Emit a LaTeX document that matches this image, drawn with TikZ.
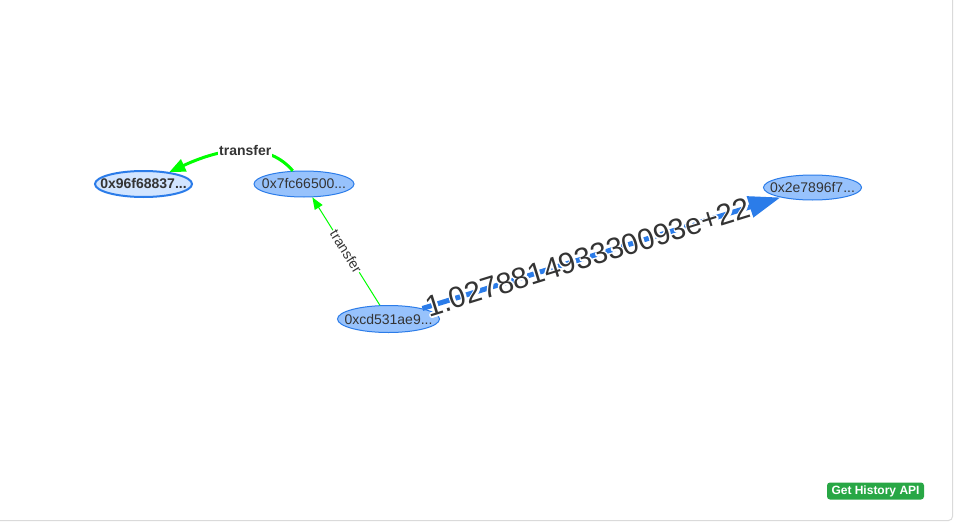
\documentclass[tikz,border=0pt]{standalone}
\usepackage{fontspec}
\setmainfont{Liberation Sans}
\usetikzlibrary{shapes.geometric,arrows.meta}
\definecolor{nodefill}{HTML}{97C2FC}
\definecolor{nodeborder}{HTML}{2B7CE9}
\definecolor{selfill}{HTML}{D2E5FF}
\definecolor{txt}{HTML}{343434}
\definecolor{limegreen}{HTML}{00FF00}
\definecolor{btn}{HTML}{28A745}
\definecolor{framegray}{HTML}{DADADA}
\newcommand\nb[1]{\makebox[0pt]{#1}}
\newcommand\halo[1]{\special{pdf:literal direct 1 Tr 3.6 w 1 j}#1\special{pdf:literal direct 0 Tr}}
\begin{document}
\begin{tikzpicture}[x=1pt,y=-1pt,
  acct/.style={ellipse, draw=nodeborder, fill=nodefill, line width=1pt, inner sep=0pt,
    minimum width=100pt, minimum height=26pt, text=txt, font=\fontsize{14}{16}\selectfont},
  selacct/.style={fill=selfill, line width=2pt, font=\fontsize{14}{16}\selectfont\bfseries},
  elabel/.style={text=txt, font=\fontsize{14}{16}\selectfont, fill=white, inner sep=1pt},
  greenthick/.style={draw=limegreen, line width=3pt, -{Triangle[length=16pt,width=13pt]}},
  greenthin/.style={draw=limegreen, line width=1pt, -{Triangle[length=12pt,width=9pt]}},
  blueedge/.style={draw=nodeborder, line width=5pt, -{Triangle[length=32pt,width=21pt]}},
  biglabel/.style={font=\fontsize{29.6}{32}\selectfont, inner sep=0pt, sloped, pos=0.462},
  apibtn/.style={fill=btn, rounded corners=3pt, text=white, font=\fontsize{12}{14}\selectfont\bfseries,
    minimum width=97pt, minimum height=17pt, inner sep=0pt}]
\useasboundingbox (0,0) rectangle (955,527);
\clip (0,0) rectangle (955,527);
\fill[white] (0,0) rectangle (955,527);
\draw[framegray, line width=1pt, rounded corners=4pt] (-10,-10) rectangle (952.5,520.5);

\node[acct, selacct, minimum width=97pt, minimum height=26pt] (A) at (143.5,184) {\nb{0x96f68837...}};
\node[acct] (B) at (304,184) {\nb{0x7fc66500...}};
\node[acct, minimum width=102pt, minimum height=27pt] (C) at (388.5,319) {\nb{0xcd531ae9...}};
\node[acct, minimum width=98pt, minimum height=25pt] (D) at (812.5,187.5) {\nb{0x2e7896f7...}};

\draw[greenthick] (B) .. controls (270,144) and (230,144) .. (A)
  node[pos=0.5, elabel, font=\fontsize{14}{16}\selectfont\bfseries] {transfer};
\draw[greenthin] (C) -- (B) node[midway, sloped, elabel] {transfer};
\draw[blueedge] (C) -- (D);
\path (C) -- (D) node[biglabel, text=white] (bighalo) {\halo{1.027881493330093e+22}};
\path (C) -- (D) node[biglabel, text=txt] (big) {1.027881493330093e+22};

\node[apibtn] (api) at (875.5,491) {Get History API};
\end{tikzpicture}
\end{document}
